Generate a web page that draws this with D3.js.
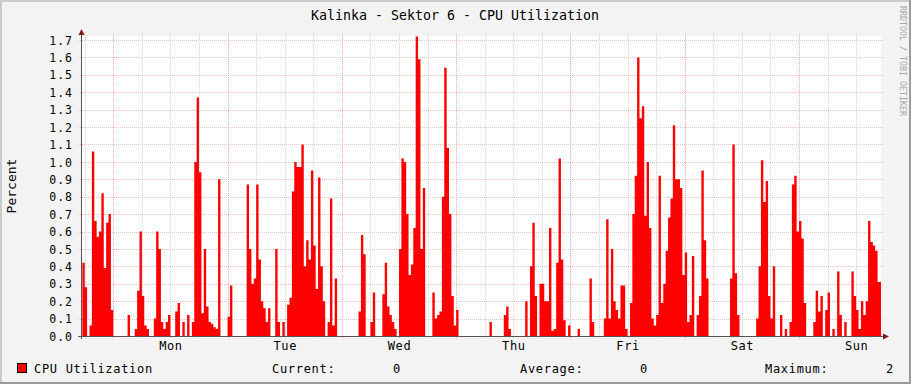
<!DOCTYPE html>
<html>
<head>
<meta charset="utf-8">
<script src="https://cdn.jsdelivr.net/npm/d3@7"></script>
<style>
  html, body { margin: 0; padding: 0; background: #f3f3f3; }
  svg { display: block; font-family: 'DejaVu Sans Mono', monospace; }
</style>
</head>
<body>
<svg id="chart" width="911" height="384"></svg>
<script>
// Half-hour averages, starting Sunday 17:00, one week long.
const CPU_VALUES = [
  0, 0.42, 0.28, 0, 0.06, 1.06, 0.66, 0.57, 0.6, 0.82,
  0.39, 0.65, 0.7, 0.15, 0, 0, 0, 0, 0, 0,
  0.12, 0, 0, 0.04, 0.26, 0.6, 0.23, 0.06, 0.04, 0,
  0, 0.1, 0.6, 0.5, 0.08, 0.04, 0.08, 0.12, 0, 0,
  0.14, 0.19, 0, 0.08, 0, 0.12, 0, 0.08, 1.0, 1.37,
  0.94, 0.13, 0.5, 0.17, 0.08, 0.07, 0.05, 0.04, 0.9, 0,
  0, 0, 0.11, 0.29, 0, 0, 0, 0, 0, 0,
  0.87, 0.5, 0.3, 0.33, 0.87, 0.44, 0.2, 0.16, 0.08, 0.16,
  0, 0, 0.5, 0.08, 0, 0.08, 0, 0.18, 0.22, 0.83,
  1.0, 0.97, 0.97, 1.1, 0.4, 0.55, 0.44, 0.95, 0.52, 0.27,
  0.91, 0.4, 0.2, 0, 0.08, 0.79, 0.06, 0.33, 0, 0,
  0, 0, 0, 0, 0, 0, 0, 0.14, 0.58, 0.47,
  0, 0, 0.08, 0.25, 0, 0, 0, 0.24, 0.42, 0.17,
  0.12, 0.08, 0.04, 0, 0.5, 1.02, 1.0, 0.7, 0.35, 0.41,
  0.62, 1.72, 1.59, 0.5, 0.85, 0, 0, 0, 0.25, 0.1,
  0.12, 0.14, 0.8, 1.54, 1.08, 0.7, 0.23, 0.06, 0.15, 0,
  0, 0, 0, 0, 0, 0, 0, 0, 0, 0,
  0, 0, 0.08, 0, 0, 0, 0, 0, 0.12, 0.17,
  0.04, 0, 0, 0, 0, 0, 0, 0.2, 0, 0.4,
  0.65, 0.23, 0, 0.3, 0.3, 0.2, 0.2, 0.62, 0.03, 0.04,
  0.42, 1.02, 0.44, 0.09, 0, 0.06, 0, 0, 0, 0.04,
  0, 0, 0, 0, 0.33, 0.08, 0, 0, 0, 0,
  0.1, 0.67, 0.1, 0.5, 0.2, 0.15, 0.1, 0.29, 0.29, 0.04,
  0, 0.19, 0.7, 0.92, 1.6, 1.25, 1.32, 0.69, 1.0, 0.62,
  0.1, 0.06, 0.12, 0.92, 0.19, 0.3, 0.49, 0.68, 0.79, 1.21,
  0.9, 0.9, 0.85, 0.35, 0.48, 0.08, 0.12, 0.46, 0, 0.12,
  0.23, 0.95, 0.55, 0.33, 0, 0, 0, 0, 0, 0,
  0, 0, 0, 0.33, 1.1, 0.36, 0.12, 0, 0, 0,
  0, 0, 0, 0, 0.1, 0.4, 1.01, 0.77, 0.89, 0.23,
  0.1, 0.4, 0, 0, 0.12, 0, 0.04, 0, 0.08, 0.87,
  0.92, 0.6, 0.66, 0.56, 0.19, 0, 0, 0, 0.08, 0.26,
  0.14, 0.23, 0, 0.15, 0.25, 0, 0.04, 0, 0.37, 0.12,
  0, 0.08, 0, 0, 0.37, 0.23, 0.15, 0.04, 0.2, 0.12,
  0.2, 0.66, 0.54, 0.52, 0.49, 0.31, 0.31,
];

const Y_TICKS = [0, 0.1, 0.2, 0.3, 0.4, 0.5, 0.6, 0.7, 0.8, 0.9,
  1.0, 1.1, 1.2, 1.3, 1.4, 1.5, 1.6, 1.7];

const TITLE = 'Kalinka - Sektor 6 - CPU Utilization';
const Y_LABEL = 'Percent';
const SERIES_NAME = 'CPU Utilization';
const WATERMARK = 'RRDTOOL / TOBI OETIKER';

const HOUR = 3600 * 1000;
const DATA_START = Date.UTC(2024, 0, 7, 17, 0); // Sunday 17:00.
const VIEW_START = Date.UTC(2024, 0, 7, 17, 13);
const VIEW_END = VIEW_START + 7 * 24 * HOUR;
const STEP = HOUR / 2;

const WIDTH = 911;
const HEIGHT = 384;
const PLOT = {left: 81, right: 881, top: 36, bottom: 336};

const COLORS = {
  back: '#f3f3f3',
  canvas: '#ffffff',
  shadeA: '#cbcbcb',
  shadeB: '#9a9a9a',
  grid: '#d6d6d6',
  mgrid: '#efc2c2',
  mgridV: '#f4aaaa',
  axis: '#5c5050',
  arrow: '#7d1a1a',
  area: '#ff0000',
};

const svg = d3.select('#chart');

svg.append('rect')
    .attr('width', WIDTH).attr('height', HEIGHT)
    .attr('fill', COLORS.back);

// Frame shading, light on top/left, darker on bottom/right.
svg.append('rect').attr('x', 0).attr('y', 0)
    .attr('width', WIDTH).attr('height', 2).attr('fill', COLORS.shadeA);
svg.append('rect').attr('x', 0).attr('y', 0)
    .attr('width', 2).attr('height', HEIGHT).attr('fill', COLORS.shadeA);
svg.append('rect').attr('x', 0).attr('y', HEIGHT - 2)
    .attr('width', WIDTH).attr('height', 2).attr('fill', COLORS.shadeB);
svg.append('rect').attr('x', WIDTH - 2).attr('y', 0)
    .attr('width', 2).attr('height', HEIGHT).attr('fill', COLORS.shadeB);

const x = d3.scaleUtc()
    .domain([VIEW_START, VIEW_END])
    .range([PLOT.left, PLOT.right]);
const y = d3.scaleLinear()
    .domain([0, 1.723])
    .range([PLOT.bottom, PLOT.top]);

svg.append('rect')
    .attr('x', PLOT.left).attr('y', PLOT.top)
    .attr('width', PLOT.right - PLOT.left)
    .attr('height', PLOT.bottom - PLOT.top)
    .attr('fill', COLORS.canvas);

// Grid: minor every 6 hours, major at midnight, horizontal every 0.1.
const gridGroup = svg.append('g')
    .attr('shape-rendering', 'crispEdges')
    .attr('stroke-width', 1)
    .attr('stroke-dasharray', '1,1');
const minorTicks = d3.utcHour.every(6).range(VIEW_START, VIEW_END)
    .filter(d => d.getUTCHours() !== 0);
const majorTicks = d3.utcDay.range(VIEW_START, VIEW_END);

gridGroup.selectAll('line.minor')
    .data(minorTicks)
    .join('line')
    .attr('class', 'minor')
    .attr('x1', d => Math.round(x(d)) + 0.5)
    .attr('x2', d => Math.round(x(d)) + 0.5)
    .attr('y1', PLOT.top - 3)
    .attr('y2', PLOT.bottom + 3)
    .attr('stroke', COLORS.grid);

gridGroup.selectAll('line.hgrid')
    .data(Y_TICKS.slice(1))
    .join('line')
    .attr('class', 'hgrid')
    .attr('x1', PLOT.left - 3)
    .attr('x2', PLOT.right + 2)
    .attr('y1', d => Math.round(y(d)) + 0.5)
    .attr('y2', d => Math.round(y(d)) + 0.5)
    .attr('stroke', COLORS.mgrid);

gridGroup.selectAll('line.major')
    .data(majorTicks)
    .join('line')
    .attr('class', 'major')
    .attr('x1', d => Math.round(x(d)) + 0.5)
    .attr('x2', d => Math.round(x(d)) + 0.5)
    .attr('y1', PLOT.top - 3)
    .attr('y2', PLOT.bottom + 4)
    .attr('stroke', COLORS.mgridV);

// The area itself, drawn as steps.
const points = CPU_VALUES.map((v, i) => ({t: DATA_START + i * STEP, v}));
points.push({t: DATA_START + CPU_VALUES.length * STEP, v: 0});

svg.append('clipPath')
    .attr('id', 'plot-clip')
    .append('rect')
    .attr('x', PLOT.left + 1).attr('y', PLOT.top - 4)
    .attr('width', PLOT.right - PLOT.left - 1)
    .attr('height', PLOT.bottom - PLOT.top + 4);

const area = d3.area()
    .curve(d3.curveStepAfter)
    .x(d => x(d.t))
    .y0(y(0))
    .y1(d => y(d.v));

svg.append('path')
    .datum(points)
    .attr('clip-path', 'url(#plot-clip)')
    .attr('d', area)
    .attr('fill', COLORS.area);

// Axis lines and arrows.
const axisGroup = svg.append('g')
    .attr('shape-rendering', 'crispEdges')
    .attr('stroke', COLORS.axis);
axisGroup.append('line')
    .attr('x1', PLOT.left - 3).attr('x2', PLOT.right + 3)
    .attr('y1', PLOT.bottom + 0.5).attr('y2', PLOT.bottom + 0.5);
axisGroup.append('line')
    .attr('x1', PLOT.left + 0.5).attr('x2', PLOT.left + 0.5)
    .attr('y1', PLOT.bottom + 3).attr('y2', PLOT.top - 3);

svg.append('path')
    .attr('d', `M${PLOT.left - 2.5},${PLOT.top - 1} L${PLOT.left + 0.5},${PLOT.top - 7}` +
        ` L${PLOT.left + 3.5},${PLOT.top - 1} Z`)
    .attr('fill', COLORS.arrow);
svg.append('path')
    .attr('d', `M${PLOT.right + 2},${PLOT.bottom - 2.5} L${PLOT.right + 8},${PLOT.bottom + 0.5}` +
        ` L${PLOT.right + 2},${PLOT.bottom + 3.5} Z`)
    .attr('fill', COLORS.arrow);

// Y tick labels.
const yAxis = svg.append('g')
    .attr('transform', `translate(${PLOT.left},0)`)
    .call(d3.axisLeft(y)
        .tickValues(Y_TICKS)
        .tickFormat(d3.format('.1f'))
        .tickSize(0)
        .tickPadding(8));
yAxis.select('.domain').remove();
yAxis.selectAll('text')
    .attr('font-family', 'DejaVu Sans Mono')
    .attr('font-size', 11.5)
    .attr('letter-spacing', 1)
    .attr('fill', '#000')
    .attr('dy', '0.36em');

// Day labels, centred on noon.
const noonTicks = majorTicks.map(d => new Date(+d + 12 * HOUR))
    .filter(d => +d < VIEW_END);
const xAxis = svg.append('g')
    .attr('transform', `translate(0,${PLOT.bottom})`)
    .call(d3.axisBottom(x)
        .tickValues(noonTicks)
        .tickFormat(d3.utcFormat('%a'))
        .tickSize(0));
xAxis.select('.domain').remove();
xAxis.selectAll('text')
    .attr('font-family', 'DejaVu Sans Mono')
    .attr('font-size', 12)
    .attr('letter-spacing', 0.6)
    .attr('fill', '#000')
    .attr('y', 14)
    .attr('dy', 0);

// Titles.
svg.append('text')
    .attr('x', 455).attr('y', 20)
    .attr('text-anchor', 'middle')
    .attr('font-size', 13.3)
    .text(TITLE);

svg.append('text')
    .attr('transform', 'translate(15.5,186) rotate(-90)')
    .attr('text-anchor', 'middle')
    .attr('font-size', 13)
    .text(Y_LABEL);

svg.append('text')
    .attr('transform', 'translate(900,6) rotate(90)')
    .attr('font-size', 8.3)
    .attr('fill', '#a8a8a8')
    .text(WATERMARK);

// Legend with GPRINT style stats.
const fmt = d3.format('.0f');
const current = CPU_VALUES[CPU_VALUES.length - 1];
const average = d3.mean(CPU_VALUES);
const maximum = d3.max(CPU_VALUES);

svg.append('rect')
    .attr('x', 17.5).attr('y', 363.5)
    .attr('width', 9).attr('height', 9)
    .attr('fill', COLORS.area)
    .attr('stroke', '#000');

const legendItems = [
  {x: 34, text: SERIES_NAME},
  {x: 272, text: 'Current:'},
  {x: 393, text: fmt(current)},
  {x: 520, text: 'Average:'},
  {x: 640, text: fmt(average)},
  {x: 765, text: 'Maximum:'},
  {x: 886, text: fmt(maximum)},
];
svg.append('g')
    .selectAll('text')
    .data(legendItems)
    .join('text')
    .attr('x', d => d.x)
    .attr('y', 372.5)
    .attr('font-size', 12)
    .attr('letter-spacing', 0.7)
    .text(d => d.text);
</script>
</body>
</html>
